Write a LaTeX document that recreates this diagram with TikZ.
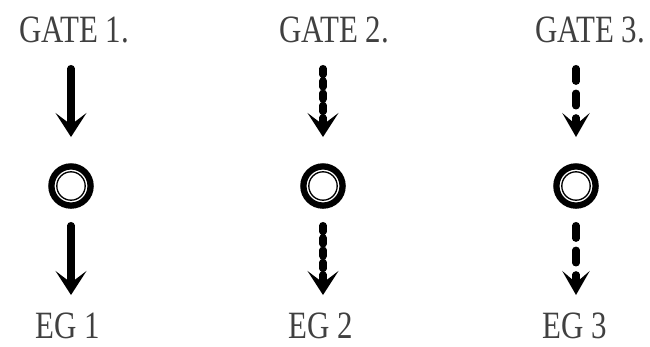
\documentclass[tikz,border=0pt]{standalone}
\usepackage{fontspec}
\setmainfont[FakeStretch=0.8]{Liberation Serif}
\usetikzlibrary{arrows.meta}
\definecolor{gatetext}{RGB}{64,64,64}

\begin{document}
\begin{tikzpicture}[x=0.02cm, y=-0.02cm,
    lbl/.style={anchor=base, text=gatetext, font=\fontsize{22}{26}\selectfont, inner sep=0pt},
    ring/.style={circle, draw, line width=3.6pt, inner sep=0pt, minimum size=0.784cm},
    inring/.style={circle, draw, line width=0.75pt, inner sep=0pt, minimum size=0.568cm},
    arr/.style={line width=4pt, line cap=round, -{Stealth[length=13.6pt, width=17.5pt, inset=6.6pt]}},
    solidarr/.style={arr},
    beadarr/.style={arr, dash pattern=on 3.5pt off 3.5pt},
    dasharr/.style={arr, dash pattern=on 7.3pt off 6.7pt, -{Stealth[length=13.6pt, width=15.5pt, inset=6.6pt]}}]
  \useasboundingbox (0,0) rectangle (650,346);
  % one column per gate: label, arrow in, ring, arrow out, label
  \foreach \x/\sty/\gx/\ex/\n in {71/solidarr/74/68/1, 323/beadarr/334/321/2, 576/dasharr/590/575/3} {
    \node[lbl] (gate\n) at (\gx,42) {GATE \n.};
    \node[ring] (ring\n) at (\x,186) {};
    \node[inring] (hole\n) at (ring\n) {};
    \coordinate (top\n) at (\x,68.5);
    \coordinate (in\n) at (\x,137);
    \coordinate (out\n) at (\x,225.5);
    \coordinate (bot\n) at (\x,295);
    \draw[\sty] (top\n) -- (in\n);
    \draw[\sty] (out\n) -- (bot\n);
    \node[lbl] (eg\n) at (\ex,338) {EG \n};
  }
\end{tikzpicture}
\end{document}
